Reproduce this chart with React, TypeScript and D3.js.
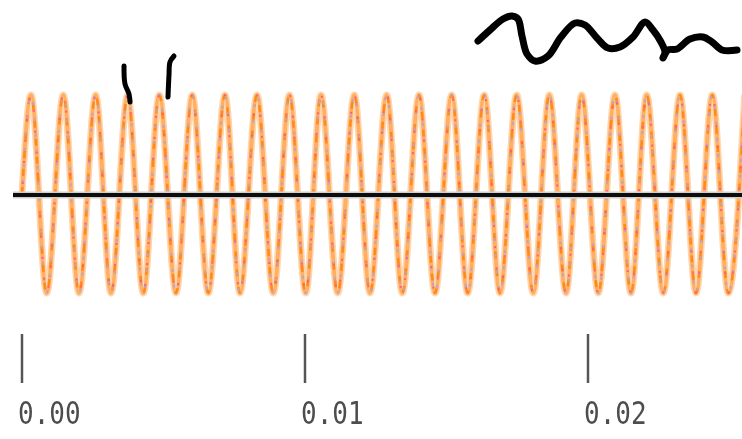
import React from "react";
import * as d3 from "d3";

// Waveform extrema (time in ms, level in normalized amplitude)
const crestTimesMs = [
  0.318, 1.459, 2.604, 3.735, 4.852, 6.018, 7.173, 8.304, 9.452, 10.565, 11.742,
  12.887, 14.028, 15.184, 16.336, 17.481, 18.633, 19.777, 20.954, 22.074, 23.251,
  24.392, 25.537,
];
const troughTimesMs = [
  0.873, 2.014, 3.145, 4.286, 5.442, 6.583, 7.703, 8.88, 10.025, 11.155, 12.297,
  13.438, 14.594, 15.749, 16.89, 18.067, 19.223, 20.364, 21.519, 22.661, 23.816,
  24.958,
];
const crestLevel = 0.9;
const troughLevel = -0.9;
const startTimeMs = 0;
const startLevel = 0;

const tickValues = [0, 0.01, 0.02];
const tickLabels = ["0.00", "0.01", "0.02"];

// Hand-drawn annotation strokes
const scribbleMain: [number, number][] = [
  [478, 41], [490, 30], [503, 19], [512, 16], [518, 19], [522, 36], [527, 54],
  [535, 61], [548, 56], [561, 37], [575, 23], [585, 25], [597, 38], [608, 48],
  [620, 47], [633, 37], [645, 22], [653, 30], [661, 42], [665, 52], [663, 58],
  [668, 50], [677, 49], [690, 39], [703, 37], [712, 42], [722, 50], [737, 50],
];
const scribbleA: [number, number][] = [
  [124, 66], [125, 84], [129, 94], [130, 102],
];
const scribbleB: [number, number][] = [
  [174, 56], [170, 62], [169, 75], [168, 97],
];

const W = 742;
const H = 439;

export default function App() {
  const x = d3.scaleLinear().domain([0, 0.01]).range([22, 305]);
  const y = d3.scaleLinear().domain([-1, 1]).range([304, 84]);

  const pts: { t: number; v: number }[] = [{ t: startTimeMs / 1000, v: startLevel }];
  crestTimesMs.forEach((t) => pts.push({ t: t / 1000, v: crestLevel }));
  troughTimesMs.forEach((t) => pts.push({ t: t / 1000, v: troughLevel }));
  pts.sort((a, b) => a.t - b.t);

  const waveLine = d3
    .line<{ t: number; v: number }>()
    .x((d) => x(d.t))
    .y((d) => y(d.v))
    .curve(d3.curveMonotoneX);
  const d = waveLine(pts) || "";

  const scribble = d3.line().curve(d3.curveCatmullRom.alpha(0.5));

  return (
    <svg
      width={W}
      height={H}
      style={{ position: "absolute", left: 0, top: 0, background: "#fff" }}
    >
      <defs>
        <filter id="soft" x="-5%" y="-5%" width="110%" height="110%">
          <feGaussianBlur stdDeviation={0.55} />
        </filter>
      </defs>
      <g filter="url(#soft)">
        <path d={d} fill="none" stroke="#ffd6ae" strokeWidth={7} strokeLinejoin="round" />
        <path d={d} fill="none" stroke="#ffae62" strokeWidth={4} strokeLinejoin="round" />
        <path d={d} fill="none" stroke="#ff8a1c" strokeWidth={2.5} strokeDasharray="7 11" />
        <path d={d} fill="none" stroke="#b6a7c9" strokeWidth={2} strokeDasharray="3 13" strokeDashoffset={5} />
        <path d={d} fill="none" stroke="#ff5d7a" strokeWidth={2} strokeDasharray="2 19" strokeDashoffset={11} />

        <line x1={13} x2={W} y1={y(0) + 1} y2={y(0) + 1} stroke="#d0d0d0" strokeWidth={7} />
        <line x1={13} x2={W} y1={y(0) + 1} y2={y(0) + 1} stroke="#111" strokeWidth={4} />

        {tickValues.map((v, i) => (
          <g key={v} transform={`translate(${x(v)},0)`}>
            <line y1={334} y2={383} stroke="#555" strokeWidth={2.5} />
            <text
              x={-4}
              y={0}
              fill="#4e4e4e"
              fontFamily="'DejaVu Sans Mono', monospace"
              fontSize={26}
              transform="translate(0,424) scale(1,1.25)"
            >
              {tickLabels[i]}
            </text>
          </g>
        ))}

        <path d={scribble(scribbleMain) || ""} fill="none" stroke="#000" strokeWidth={7} strokeLinecap="round" strokeLinejoin="round" />
        <path d={scribble(scribbleA) || ""} fill="none" stroke="#000" strokeWidth={5} strokeLinecap="round" strokeLinejoin="round" />
        <path d={scribble(scribbleB) || ""} fill="none" stroke="#000" strokeWidth={5} strokeLinecap="round" strokeLinejoin="round" />
      </g>
    </svg>
  );
}
